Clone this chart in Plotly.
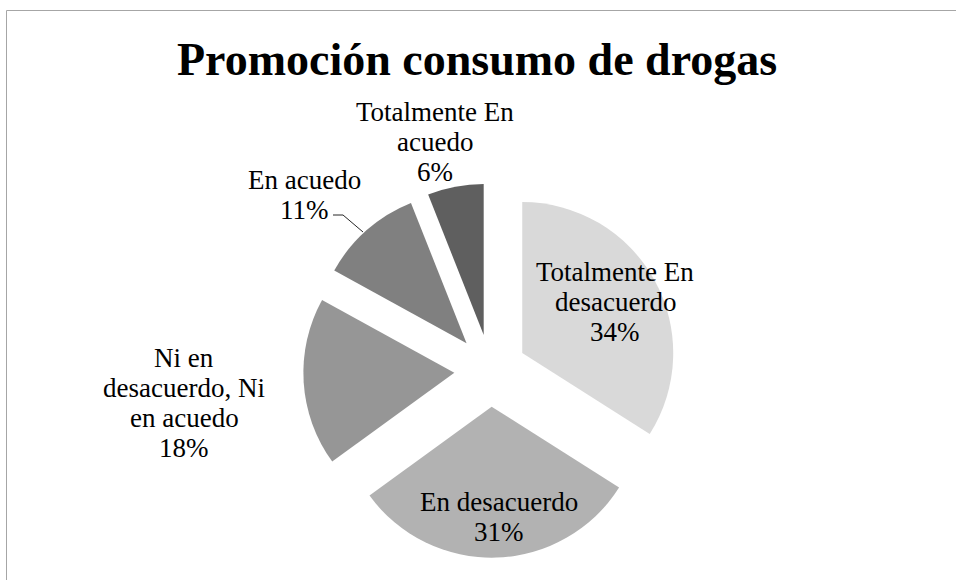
import plotly.graph_objects as go

# Survey answers: "Promoción consumo de drogas"
categories = [
    "Totalmente En desacuerdo",
    "En desacuerdo",
    "Ni en desacuerdo, Ni en acuedo",
    "En acuedo",
    "Totalmente En acuedo",
]
values = [34, 31, 18, 11, 6]
colors = ["#d9d9d9", "#b2b2b2", "#969696", "#808080", "#5f5f5f"]

# How each category label is broken into lines on the chart
wrapped = [
    ["Totalmente En", "desacuerdo"],
    ["En desacuerdo"],
    ["Ni en", "desacuerdo, Ni", "en acuedo"],
    ["En acuedo"],
    ["Totalmente En", "acuedo"],
]
# Label block anchors in pixels (centre x, first-line y)
label_pos = [(615, 272), (499, 502), (184, 358), (304, 180), (435, 112)]

W, H = 956, 580
FONT = "Liberation Serif"
LINE = 30  # line spacing in px

total = sum(values)


def px(x):
    return x / W


def py(y):
    return 1 - y / H


fig = go.Figure(
    go.Pie(
        labels=categories,
        values=values,
        sort=False,
        direction="clockwise",
        rotation=0,
        pull=[0.24] * len(values),
        marker=dict(colors=colors, line=dict(width=0)),
        textinfo="none",
        hoverinfo="label+percent",
        showlegend=False,
        domain=dict(x=[px(303.3), px(677.7)], y=[22.3 / H, 396.7 / H]),
    )
)

annotations = []
for lines, v, (cx, y0) in zip(wrapped, values, label_pos):
    pct = f"{round(100 * v / total)}%"
    for i, t in enumerate(lines + [pct]):
        annotations.append(
            dict(
                x=px(cx), y=py(y0 + i * LINE), xref="paper", yref="paper",
                text=t, showarrow=False, xanchor="center", yanchor="middle",
                font=dict(family=FONT, size=27, color="#000000"),
            )
        )

annotations.append(
    dict(
        x=px(477), y=py(60), xref="paper", yref="paper",
        text="<b>Promoción consumo de drogas</b>", showarrow=False,
        xanchor="center", yanchor="middle",
        font=dict(family=FONT, size=46, color="#000000"),
    )
)

shapes = [
    # chart frame (top and left edges visible)
    dict(type="rect", xref="paper", yref="paper",
         x0=px(6.5), y0=py(H + 20), x1=px(W + 20), y1=py(10.5),
         line=dict(color="#a6a6a6", width=1), fillcolor="rgba(0,0,0,0)"),
    # leader line for the "En acuedo" label
    dict(type="path", xref="paper", yref="paper",
         path=f"M {px(333)} {py(215)} L {px(343)} {py(215)} L {px(363)} {py(232)}",
         line=dict(color="#262626", width=1)),
]

fig.update_layout(
    width=W, height=H,
    margin=dict(l=0, r=0, t=0, b=0),
    paper_bgcolor="white", plot_bgcolor="white",
    annotations=annotations,
    shapes=shapes,
)

fig.write_html("out.html")
